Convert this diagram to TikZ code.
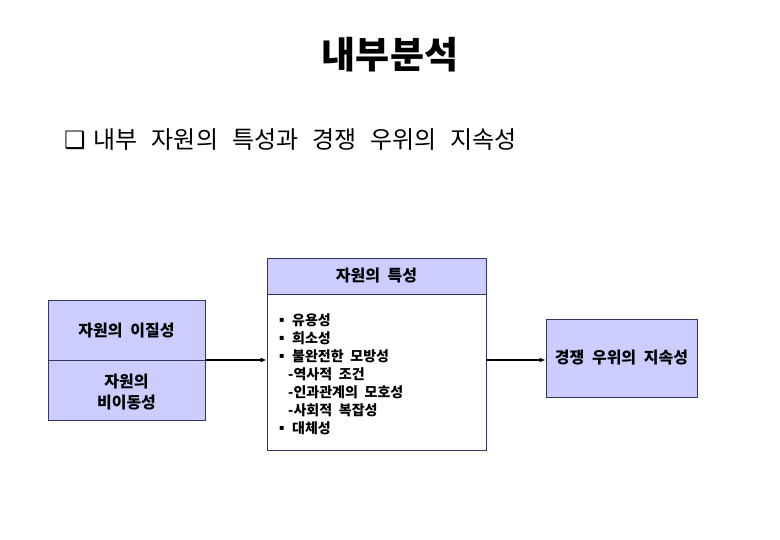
\documentclass[tikz,border=0pt]{standalone}
\usepackage{fontspec}
\setmainfont{Noto Sans CJK KR}[WordSpace=2.1]
\newfontfamily\symfont{DejaVu Sans}
\usetikzlibrary{arrows.meta}

\definecolor{boxfill}{RGB}{204,204,255}
\definecolor{boxline}{RGB}{51,51,102}

\tikzset{
  box/.style={draw=boxline,fill=boxfill,line width=0.9pt,inner sep=0pt,
    font=\fontsize{16}{21}\selectfont\bfseries,align=center},
  arr/.style={-{Latex[length=6pt,width=5pt]},line width=1.3pt,black},
}
\newcommand{\itm}{\makebox[13pt][l]{\raisebox{3pt}{\symfont\fontsize{8}{8}\selectfont ▪}}}

\begin{document}
\begin{tikzpicture}[x=1pt,y=-1pt]
    \useasboundingbox[fill=white] (0,0) rectangle (780,540);

    %Titulo
    \node (title) at (390,55) {\fontsize{37}{40}\selectfont\bfseries 내부분석};
    \node[anchor=west,inner sep=0pt] (sub) at (64,140)
        {\fontsize{24}{26}\selectfont\spaceskip=14pt plus 2pt minus 2pt
         {\symfont\fontsize{24}{26}\selectfont ❑}\hspace{8pt}내부 자원의 특성과 경쟁 우위의 지속성};

    %Recursos
    \node[box,minimum width=157pt,minimum height=120pt] (res) at (126.5,360) {};
    \draw[boxline,line width=0.9pt] (res.west) -- (res.east);
    \node[font=\fontsize{16}{21}\selectfont\bfseries] (hetero) at (126.5,331) {자원의 이질성};
    \node[font=\fontsize{16}{21}\selectfont\bfseries,align=center] (immob) at (126.5,392) {자원의\\비이동성};

    %Caracteristicas
    \node[box,minimum width=219pt,minimum height=36pt] (head) at (376.5,276) {자원의 특성};
    \node[box,fill=white,minimum width=219pt,minimum height=156pt,anchor=north] (body) at (head.south) {};
    \node[anchor=west,inner sep=0pt,align=left,
          font=\fontsize{14}{18}\selectfont\bfseries] (list) at (279,374.5)
        {\itm 유용성\\
         \itm 희소성\\
         \itm 불완전한 모방성\\
         \hspace*{9pt}-역사적 조건\\
         \hspace*{9pt}-인과관계의 모호성\\
         \hspace*{9pt}-사회적 복잡성\\
         \itm 대체성};

    %Ventaja
    \node[box,minimum width=151pt,minimum height=78pt] (adv) at (621.5,358) {경쟁 우위의 지속성};

    %Flechas
    \draw[arr] (res.east) -- (res.east -| body.west);
    \draw[arr] (body.east |- res.east) -- (adv.west |- res.east);
\end{tikzpicture}
\end{document}
